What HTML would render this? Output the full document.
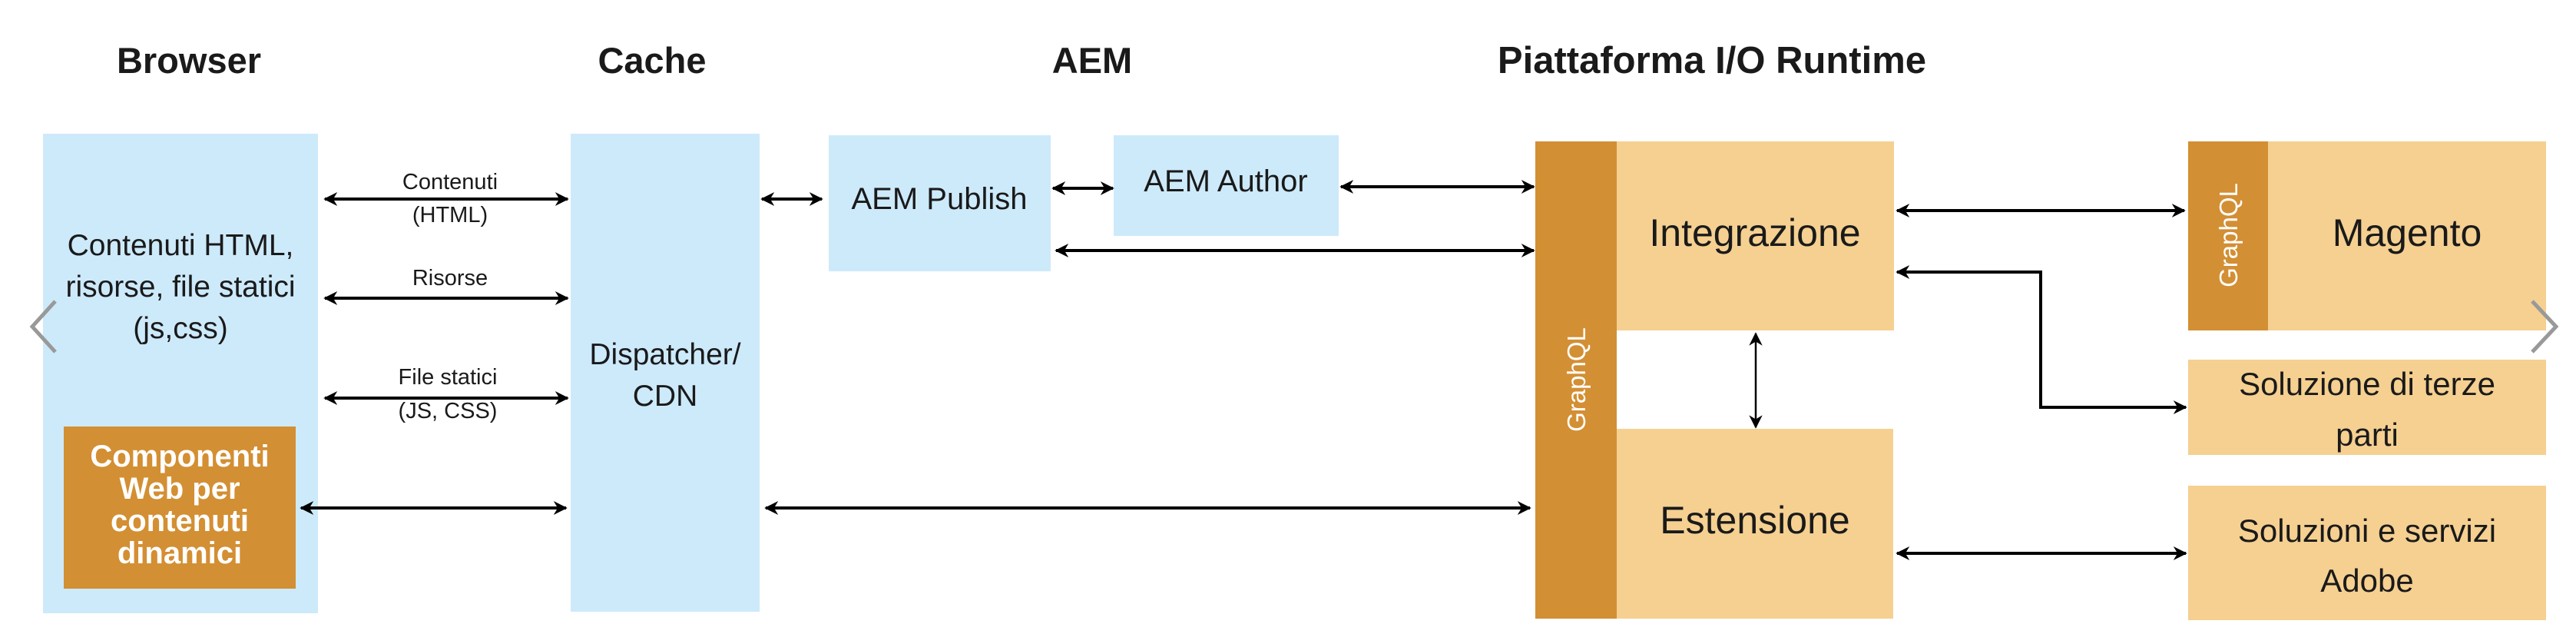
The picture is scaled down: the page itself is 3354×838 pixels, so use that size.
<!DOCTYPE html>
<html><head><meta charset="utf-8"><style>
html,body{margin:0;padding:0;background:#fff;}
svg{display:block;}
text{font-family:"Liberation Sans",sans-serif;fill:#1a1a1a;}
</style></head><body>
<svg width="3354" height="838" viewBox="0 0 3354 838" xmlns="http://www.w3.org/2000/svg">
<defs>
<marker id="a" viewBox="0 0 10 10" refX="9" refY="5" markerWidth="4.5" markerHeight="4.5" orient="auto-start-reverse"><path d="M0,0 L10,5 L0,10 L3,5 z" fill="#000"/></marker>
<marker id="b" viewBox="0 0 10 10" refX="9" refY="5" markerWidth="7" markerHeight="7" orient="auto-start-reverse"><path d="M0,0 L10,5 L0,10 L3,5 z" fill="#000"/></marker>
</defs>
<g font-weight="bold" font-size="47" text-anchor="middle">
<text x="246" y="95">Browser</text>
<text x="849" y="95">Cache</text>
<text x="1422" y="95">AEM</text>
<text x="2229" y="95" font-size="49">Piattaforma I/O Runtime</text>
</g>
<rect x="56" y="174" width="358" height="624" fill="#cdeafb"/>
<rect x="83" y="555" width="302" height="211" fill="#d38f33"/>
<rect x="743" y="174" width="246" height="622" fill="#cdeafb"/>
<rect x="1079" y="176" width="289" height="177" fill="#cdeafb"/>
<rect x="1450" y="176" width="293" height="131" fill="#cdeafb"/>
<rect x="1999" y="184" width="106" height="621" fill="#d38f33"/>
<rect x="2105" y="184" width="361" height="246" fill="#f5d091"/>
<rect x="2105" y="558" width="360" height="247" fill="#f5d091"/>
<rect x="2849" y="184" width="104" height="246" fill="#d38f33"/>
<rect x="2953" y="184" width="362" height="246" fill="#f5d091"/>
<rect x="2849" y="468" width="466" height="124" fill="#f5d091"/>
<rect x="2849" y="632" width="466" height="175" fill="#f5d091"/>
<g font-size="39" text-anchor="middle">
<text x="235" y="332">Contenuti HTML,</text>
<text x="235" y="386">risorse, file statici</text>
<text x="235" y="440">(js,css)</text>
<text x="866" y="474">Dispatcher/</text>
<text x="866" y="528">CDN</text>
<text x="1223" y="272" font-size="40">AEM Publish</text>
<text x="1596" y="249" font-size="40">AEM Author</text>
</g>
<g font-size="40" font-weight="bold" text-anchor="middle">
<text x="234" y="607" style="fill:#fff">Componenti</text>
<text x="234" y="649" style="fill:#fff">Web per</text>
<text x="234" y="691" style="fill:#fff">contenuti</text>
<text x="234" y="733" style="fill:#fff">dinamici</text>
</g>
<g font-size="50" text-anchor="middle">
<text x="2285" y="320">Integrazione</text>
<text x="2285" y="694">Estensione</text>
<text x="3134" y="320">Magento</text>
</g>
<g font-size="42" text-anchor="middle">
<text x="3082" y="514">Soluzione di terze</text>
<text x="3082" y="580">parti</text>
<text x="3082" y="705">Soluzioni e servizi</text>
<text x="3082" y="770">Adobe</text>
</g>
<g font-size="33" text-anchor="middle">
<text x="2064" y="494" transform="rotate(-90 2064 494)" style="fill:#fff">GraphQL</text>
<text x="2913" y="306" transform="rotate(-90 2913 306)" style="fill:#fff">GraphQL</text>
</g>
<g font-size="29" text-anchor="middle">
<text x="586" y="246">Contenuti</text>
<text x="586" y="289">(HTML)</text>
<text x="586" y="371">Risorse</text>
<text x="583" y="500">File statici</text>
<text x="583" y="544">(JS, CSS)</text>
</g>
<g stroke="#000" stroke-width="4" fill="none" marker-start="url(#a)" marker-end="url(#a)">
<line x1="423" y1="259" x2="739" y2="259"/>
<line x1="423" y1="388" x2="739" y2="388"/>
<line x1="423" y1="518" x2="739" y2="518"/>
<line x1="392" y1="661" x2="737" y2="661"/>
<line x1="992" y1="259" x2="1070" y2="259"/>
<line x1="1371" y1="245" x2="1449" y2="245"/>
<line x1="1746" y1="243" x2="1997" y2="243"/>
<line x1="1375" y1="326" x2="1997" y2="326"/>
<line x1="997" y1="661" x2="1992" y2="661"/>
<line x1="2470" y1="274" x2="2844" y2="274"/>
<polyline points="2470,354 2657,354 2657,530 2846,530"/>
<line x1="2470" y1="720" x2="2846" y2="720"/>
</g>
<line x1="2286" y1="434" x2="2286" y2="556" stroke="#000" stroke-width="2.5" marker-start="url(#b)" marker-end="url(#b)"/>
<polyline points="72,392 42,425 72,458" stroke="#999" stroke-width="5" fill="none"/>
<polyline points="3297,392 3328,425 3297,458" stroke="#999" stroke-width="5" fill="none"/>
</svg>
</body></html>
